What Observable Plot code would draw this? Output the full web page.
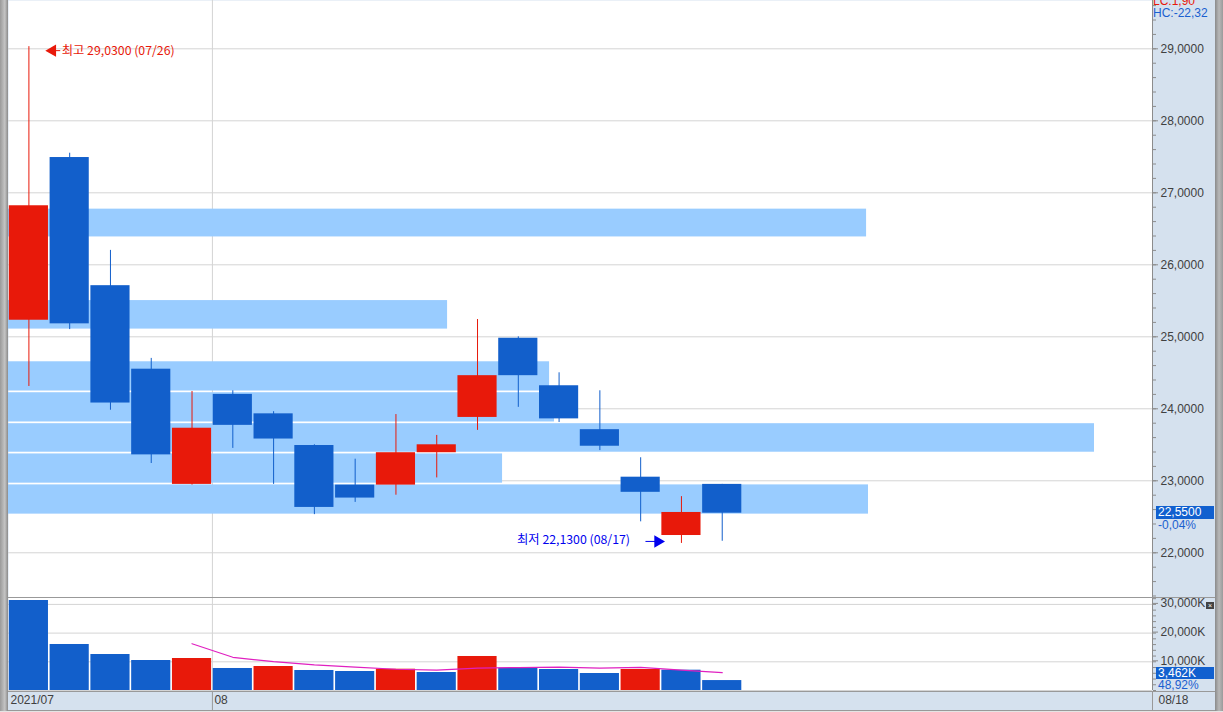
<!DOCTYPE html>
<html><head><meta charset="utf-8">
<script src="https://cdn.jsdelivr.net/npm/d3@7"></script>
<script src="https://cdn.jsdelivr.net/npm/@observablehq/plot@0.6"></script>
<style>
body{margin:0;background:#fff;}
#wrap{position:relative;width:1223px;height:712px;background:#d5e1ee;overflow:hidden;font-family:"Liberation Sans",Arial,sans-serif;font-size:12px;}
#wrap svg{position:absolute;left:0;}
.abs{position:absolute;white-space:nowrap;line-height:1;}
</style></head><body><div id="wrap"></div>
<script>
// ---------- data ----------
const year = "2021";
const dates  = ["07/26","07/27","07/28","07/29","07/30","08/02","08/03","08/04","08/05","08/06","08/09","08/10","08/11","08/12","08/13","08/16","08/17","08/18"];
const open   = [25.23,27.49,25.71,24.55,22.95,24.20,23.93,23.49,22.94,22.94,23.39,23.88,24.98,24.32,23.71,23.05,22.24,22.95];
const high   = [29.03,27.55,26.20,24.70,24.24,24.25,23.96,23.50,23.30,23.92,23.63,25.24,25.00,24.50,24.25,23.32,22.78,22.95];
const low    = [24.31,25.10,23.98,23.24,22.94,23.45,22.95,22.53,22.70,22.80,23.04,23.70,24.02,23.81,23.42,22.43,22.13,22.16];
const close  = [26.82,25.18,24.08,23.36,23.73,23.77,23.58,22.63,22.76,23.39,23.50,24.46,24.46,23.86,23.48,22.84,22.56,22.55];
const volume = [31360,16030,12540,10450,11150,7670,8360,6970,6620,7420,6270,11850,7770,7320,5920,7320,7077,3462]; // K shares
// price-by-volume profile (bottom to top)
const profileLow    = [22.53,22.96,23.39,23.81,24.24,25.10,26.38];
const profileHigh   = [22.95,23.38,23.80,24.23,24.66,25.51,26.78];
const profileVolume = [31280,17970,39500,19860,19680,15970,31210];
const priceTicks  = [22,23,24,25,26,27,28,29];
const volumeTicks = [10000,20000,30000];
const maPeriod = 5;

// ---------- styles ----------
const UP="#e8190a", DOWN="#125fcb", BAND="#99ccff", GRID="#d4d4d4", AXIS="#8c8c8c", TXT="#404040", MA="#e020c0";
const W=1215, ML=8, MR=63, PRICE_H=597, VOL_H=93, STRIP_H=18;
const xDomain=[-0.5,27.55];
const half=0.48;
const FONT="Liberation Sans, Arial, sans-serif";
const KFONT="Noto Sans CJK KR, sans-serif";

const fmt4 = v => v.toFixed(4).replace(".",",");
const fmtK = v => d3.format(",")(v)+"K";
const fmtPct = v => v.toFixed(2).replace(".",",");

const candles = dates.map((d,i)=>({i,date:d,open:open[i],high:high[i],low:low[i],close:close[i],volume:volume[i],
  color: close[i]>=open[i]?UP:DOWN, vcolor: (i>0 && volume[i]>volume[i-1])?UP:DOWN}));
const profile = profileLow.map((lo,k)=>({lo,hi:profileHigh[k],v:profileVolume[k]}));
const maxProfile = d3.max(profileVolume);
const profileSpan = 0.9493*(xDomain[1]-xDomain[0]);
const ma = candles.slice(maPeriod-1).map(c=>({i:c.i, v:d3.mean(volume.slice(c.i-maPeriod+1,c.i+1))}));
const boundaries = candles.filter((c,i)=>i>0 && c.date.slice(0,2)!==dates[i-1].slice(0,2)).map(c=>c.i-0.5);
const monthLabels = [{x:xDomain[0], label: year+"/"+dates[0].slice(0,2)}].concat(boundaries.map(b=>({x:b,label:dates[Math.ceil(b)].slice(0,2)})));
const hiC = candles[d3.maxIndex(high)];
const loC = candles[d3.minIndex(low)];
const last = candles[candles.length-1], prev = candles[candles.length-2];

const priceMinor = d3.range(107,149).map(k=>k/5);
const volMinor = d3.range(0,32001,2000);

const pricePlot = Plot.plot({
  width:W, height:PRICE_H, marginLeft:ML, marginRight:MR, marginTop:0, marginBottom:0,
  x:{domain:xDomain, axis:null}, y:{domain:[21.379,29.671], axis:null},
  style:{background:"transparent", overflow:"visible", fontFamily:FONT, fontSize:"12px"},
  marks:[
    Plot.frame({fill:"white", stroke:null}),
    Plot.gridY(priceTicks,{stroke:GRID, strokeOpacity:1}),
    Plot.ruleX(boundaries,{stroke:GRID}),
    Plot.rect(profile,{x1:xDomain[0], x2:d=>xDomain[0]+d.v/maxProfile*profileSpan, y1:"lo", y2:"hi", fill:BAND, insetTop:0.5, insetBottom:0.5}),
    Plot.ruleX(candles,{x:"i", y1:"low", y2:"high", stroke:"color", strokeWidth:1}),
    Plot.rect(candles,{x1:d=>d.i-half, x2:d=>d.i+half, y1:"open", y2:"close", fill:"color"}),
    Plot.ruleX([xDomain[1]],{stroke:AXIS}),
    Plot.axisY(priceMinor,{anchor:"right", tickSize:3, tickFormat:()=>"", stroke:AXIS}),
    Plot.axisY(priceTicks,{anchor:"right", tickSize:5, tickPadding:3, tickFormat:fmt4, stroke:AXIS, fill:TXT, fontSize:12}),
    // high annotation
    Plot.ruleY([hiC],{y:"high", x1:d=>d.i+half+0.1, x2:d=>d.i+half+0.3, stroke:UP, dy:4}),
    Plot.dot([hiC],{x:d=>d.i+half, y:"high", dx:4, dy:4, symbol:"triangle", r:4.6, rotate:-90, fill:UP, stroke:null}),
    Plot.text([hiC],{x:d=>d.i+half+0.3, y:"high", dx:1, dy:4, textAnchor:"start", fill:UP, fontFamily:KFONT, fontSize:12.3,
      text:d=>"최고 "+fmt4(d.high)+" ("+d.date+")"}),
    // low annotation
    Plot.ruleY([loC],{y:"low", x1:d=>d.i-half-0.39, x2:d=>d.i-half-0.1, stroke:"#0000ee", dy:-2}),
    Plot.dot([loC],{x:d=>d.i-half, y:"low", dx:-4, dy:-2, symbol:"triangle", r:4.6, rotate:90, fill:"#0000ee", stroke:null}),
    Plot.text([loC],{x:d=>d.i-half-0.39, y:"low", dx:-16, dy:-3, textAnchor:"end", fill:"#0000ee", fontFamily:KFONT, fontSize:12.3,
      text:d=>"최저 "+fmt4(d.low)+" ("+d.date+")"})
  ]
});

const volPlot = Plot.plot({
  width:W, height:VOL_H, marginLeft:ML, marginRight:MR, marginTop:0, marginBottom:0,
  x:{domain:xDomain, axis:null}, y:{domain:[0,32404], axis:null},
  style:{background:"transparent", overflow:"visible", fontFamily:FONT, fontSize:"12px"},
  marks:[
    Plot.frame({fill:"white", stroke:null}),
    Plot.gridY(volumeTicks,{stroke:GRID, strokeOpacity:1}),
    Plot.ruleY([0],{stroke:GRID}),
    Plot.ruleX(boundaries,{stroke:GRID}),
    Plot.rect(candles,{x1:d=>d.i-half, x2:d=>d.i+half, y1:0, y2:"volume", fill:"vcolor"}),
    Plot.line(ma,{x:"i", y:"v", stroke:MA, strokeWidth:1.2}),
    Plot.ruleX([xDomain[1]],{stroke:AXIS}),
    Plot.axisY(volMinor,{anchor:"right", tickSize:3, tickFormat:()=>"", stroke:AXIS}),
    Plot.axisY(volumeTicks,{anchor:"right", tickSize:5, tickPadding:3, tickFormat:fmtK, stroke:AXIS, fill:TXT, fontSize:12, dy:-1})
  ]
});

const strip = Plot.plot({
  width:W, height:STRIP_H, marginLeft:ML, marginRight:MR, marginTop:0, marginBottom:0,
  x:{domain:xDomain, axis:null}, y:{domain:[0,1], axis:null},
  style:{background:"transparent", overflow:"visible", fontFamily:FONT, fontSize:"12px"},
  marks:[
    Plot.ruleX(boundaries,{stroke:"#999"}),
    Plot.ruleX([xDomain[1]],{stroke:"#999"}),
    Plot.text(monthLabels,{x:"x", y:0.5, text:"label", textAnchor:"start", dx:2, dy:-1, fill:TXT, fontSize:12}),
    Plot.text([last],{x:xDomain[1], y:0.5, text:"date", textAnchor:"start", dx:6, dy:-1, fill:TXT, fontSize:12})
  ]
});

const wrap = document.getElementById("wrap");
function div(css, html){const d=document.createElement("div");d.className="abs";d.style.cssText=css;if(html!=null)d.innerHTML=html;wrap.appendChild(d);return d;}

pricePlot.style.top="0px"; wrap.appendChild(pricePlot);
volPlot.style.top=(PRICE_H)+"px"; wrap.appendChild(volPlot);
strip.style.top=(PRICE_H+VOL_H+2)+"px"; wrap.appendChild(strip);

// frame lines
div(`left:8px;top:${PRICE_H}px;width:1207px;height:1px;background:#999;`);
div(`left:8px;top:${PRICE_H+VOL_H+1}px;width:1207px;height:1px;background:#999;`);
div(`left:8px;top:${PRICE_H+VOL_H+STRIP_H+2}px;width:1207px;height:1px;background:#999;`);
div(`left:0;top:${PRICE_H+VOL_H+STRIP_H+3}px;width:1223px;height:10px;background:#e4e4e4;`);
div(`left:0;top:0;width:8px;height:${PRICE_H+VOL_H+STRIP_H+3}px;background:linear-gradient(to right,#9a9a9a,#c4c4c4 60%,#8a8a8a);`);
div(`left:1215px;top:0;width:8px;height:${PRICE_H+VOL_H+STRIP_H+3}px;background:linear-gradient(to right,#8a8a8a,#b8b8b8 50%,#9a9a9a);`);

// right panel tags
const ys = pricePlot.scale("y");
const pc = ys.apply(last.close);
div(`left:1156px;top:${pc-7}px;width:56px;height:13px;background:#1160cf;color:#fff;padding-left:2px;font-size:12px;line-height:13px;`, fmt4(last.close));
div(`left:1158px;top:${pc+6}px;color:#1a5fd0;font-size:12px;`, fmtPct((last.close-prev.close)/prev.close*100)+"%");
const vBottom = PRICE_H+VOL_H;
div(`left:1156px;top:${vBottom-23}px;width:56px;height:12px;background:#1160cf;color:#fff;padding-left:2px;font-size:12px;line-height:12px;`, fmtK(last.volume));
div(`left:1158px;top:${vBottom-11}px;color:#1a5fd0;font-size:12px;`, fmtPct(last.volume/prev.volume*100)+"%");
// LC / HC
div(`left:1153px;top:-5px;color:#e8190a;font-size:12px;`, "LC:"+fmtPct((last.close-loC.low)/loC.low*100));
div(`left:1153px;top:7px;color:#1a5fd0;font-size:12px;`, "HC:"+fmtPct((last.close-hiC.high)/hiC.high*100));
// close icon of volume pane
div(`left:1206px;top:${PRICE_H+5}px;width:8px;height:7px;background:#444;color:#fff;font-size:7px;line-height:7px;text-align:center;`, "×");
</script></body></html>
